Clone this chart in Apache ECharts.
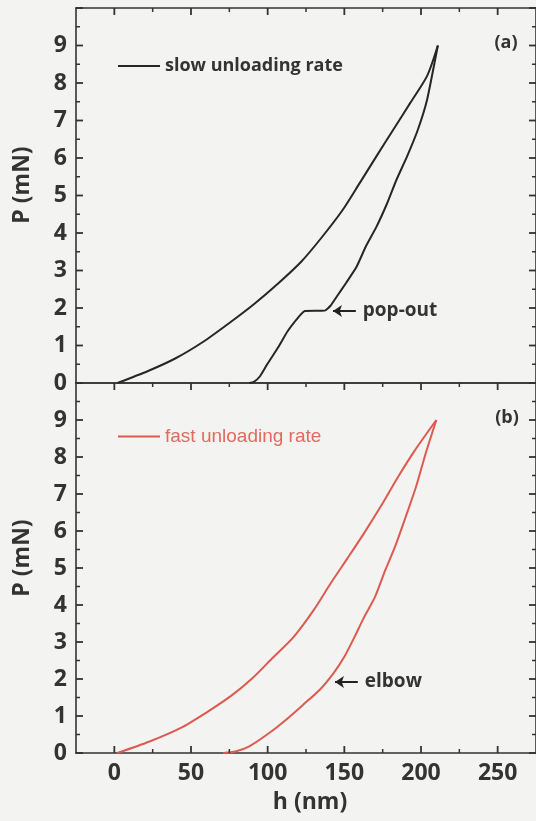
<!DOCTYPE html>
<html>
<head>
<meta charset="utf-8">
<script src="https://cdn.jsdelivr.net/npm/echarts@6/dist/echarts.min.js"></script>
</head>
<body style="margin:0;background:#f3f3f1">
<div id="chart" style="width:536px;height:821px"></div>
<script>
// ---- data ----
const xMajorTicks = [0, 50, 100, 150, 200, 250];
const xMinorTicks = [25, 75, 125, 175, 225];
const yMajorTicks = [0, 1, 2, 3, 4, 5, 6, 7, 8, 9, 10];
const yMinorTicks = [0.5, 1.5, 2.5, 3.5, 4.5, 5.5, 6.5, 7.5, 8.5, 9.5];

const slowLoadH = [2, 22, 40, 58, 75, 91, 107, 122, 135.6, 149, 160, 171, 182, 193, 204, 211];
const slowLoadP = [0, 0.32, 0.66, 1.1, 1.6, 2.1, 2.66, 3.24, 3.9, 4.62, 5.33, 6.05, 6.76, 7.47, 8.19, 9.0];
const slowUnloadH = [211, 204, 198, 191, 184, 178, 171, 164, 158, 151, 146, 141, 137.2, 124.2, 120, 113, 107, 100, 95, 91, 88];
const slowUnloadP = [9.0, 7.56, 6.76, 6.05, 5.42, 4.8, 4.17, 3.64, 3.1, 2.66, 2.36, 2.06, 1.93, 1.92, 1.75, 1.38, 0.96, 0.52, 0.18, 0.03, 0];

const fastLoadH = [2, 23, 43, 61, 77, 90, 103, 117, 130, 141, 152, 163, 174, 185, 196, 210];
const fastLoadP = [0, 0.31, 0.67, 1.12, 1.57, 2.02, 2.56, 3.14, 3.86, 4.58, 5.26, 5.95, 6.68, 7.46, 8.18, 9.0];
const fastUnloadH = [210, 203, 196.7, 190, 183, 176.7, 170, 163, 156.7, 150, 143, 134, 123, 112, 101, 88, 79, 71];
const fastUnloadP = [9.0, 8.09, 7.19, 6.38, 5.57, 4.94, 4.22, 3.68, 3.14, 2.6, 2.16, 1.71, 1.3, 0.9, 0.54, 0.18, 0.04, 0];

const popOutArrowH = [157.5, 142.6];
const popOutArrowP = 1.92;
const elbowArrowH = [158.8, 143.9];
const elbowArrowP = 1.92;

const slowName = 'slow unloading rate';
const fastName = 'fast unloading rate';
// ---------------

const X_MIN = -25, X_MAX = 275, Y_MIN = 0, Y_MAX = 10;
const zip = (a, b) => a.map((v, i) => [v, b[i]]);
const AX = '#333';
const TXT = '#333';
const BLACK = '#262626';
const RED = '#dc5a50';
const FONT = '"Open Sans", "DejaVu Sans", sans-serif';

function xa(g, pos, labels) {
  return {
    type: 'value', gridIndex: g, position: pos, min: X_MIN, max: X_MAX,
    axisLine: { show: true, onZero: false, lineStyle: { color: AX, width: 1.6 } },
    axisTick: { show: false },
    axisLabel: labels
      ? { show: true, customValues: xMajorTicks, margin: 9, color: TXT, fontSize: 23, fontWeight: 'bold', fontFamily: FONT }
      : { show: false },
    splitLine: { show: false }
  };
}
function ya(g, pos, labels) {
  return {
    type: 'value', gridIndex: g, position: pos, min: Y_MIN, max: Y_MAX, interval: 1,
    axisLine: { show: true, onZero: false, lineStyle: { color: AX, width: 1.6 } },
    axisTick: { show: false },
    axisLabel: labels
      ? { show: true, margin: 9, color: TXT, fontSize: 23, fontWeight: 'bold', fontFamily: FONT,
          formatter: v => (v >= 10 ? '' : String(v)) }
      : { show: false },
    splitLine: { show: false }
  };
}

// tick marks drawn through the axes' own scales (api.coord)
function tickSeries(xi, yi, values, edge, len, width) {
  const data = values.map(v =>
    edge === 'bottom' ? [v, Y_MIN] :
    edge === 'top' ? [v, Y_MAX] :
    edge === 'left' ? [X_MIN, v] : [X_MAX, v]);
  return {
    type: 'custom', xAxisIndex: xi, yAxisIndex: yi, silent: true, clip: false, z: 5,
    data: data,
    renderItem: (params, api) => {
      const p = api.coord([api.value(0), api.value(1)]);
      let x2 = p[0], y2 = p[1];
      if (edge === 'bottom') y2 -= len;
      else if (edge === 'top') y2 += len;
      else if (edge === 'left') x2 += len;
      else x2 -= len;
      return { type: 'line', shape: { x1: p[0], y1: p[1], x2: x2, y2: y2 },
               style: { stroke: AX, lineWidth: width } };
    }
  };
}

const chart = echarts.init(document.getElementById('chart'));

const tickSeriesList = [
  // top panel (grid 0): top, left, right edges
  tickSeries(0, 0, xMajorTicks, 'top', 7, 1.8),
  tickSeries(0, 0, xMinorTicks, 'top', 4, 1.5),
  tickSeries(0, 0, yMajorTicks, 'left', 7, 1.8),
  tickSeries(0, 0, yMinorTicks, 'left', 4, 1.5),
  tickSeries(0, 0, yMajorTicks, 'right', 7, 1.8),
  tickSeries(0, 0, yMinorTicks, 'right', 4, 1.5),
  // bottom panel (grid 1): all four edges
  tickSeries(3, 2, xMajorTicks, 'top', 7, 1.8),
  tickSeries(3, 2, xMinorTicks, 'top', 4, 1.5),
  tickSeries(3, 2, xMajorTicks, 'bottom', 7, 1.8),
  tickSeries(3, 2, xMinorTicks, 'bottom', 4, 1.5),
  tickSeries(3, 2, yMajorTicks, 'left', 7, 1.8),
  tickSeries(3, 2, yMinorTicks, 'left', 4, 1.5),
  tickSeries(3, 2, yMajorTicks, 'right', 7, 1.8),
  tickSeries(3, 2, yMinorTicks, 'right', 4, 1.5)
];

chart.setOption({
  backgroundColor: '#f3f3f1',
  animation: false,
  grid: [
    { left: 76, top: 8, width: 463, height: 375 },
    { left: 76, top: 383, width: 463, height: 370 }
  ],
  xAxis: [
    xa(0, 'bottom', false),
    xa(0, 'top', false),
    xa(1, 'top', false),
    xa(1, 'bottom', true)
  ],
  yAxis: [
    ya(0, 'left', true),
    ya(0, 'right', false),
    ya(1, 'left', true),
    ya(1, 'right', false)
  ],
  legend: [
    { data: [slowName], left: 113, top: 52, icon: 'rect', itemWidth: 42, itemHeight: 2, selectedMode: false,
      textStyle: { color: TXT, fontSize: 18, fontWeight: 'bold', fontFamily: FONT } },
    { data: [fastName], left: 113, top: 422, icon: 'rect', itemWidth: 42, itemHeight: 2, selectedMode: false,
      textStyle: { color: '#e06a60', fontSize: 19, fontFamily: '"Liberation Sans", Arial, sans-serif' } }
  ],
  graphic: [
    { type: 'text', x: 22, y: 185, rotation: Math.PI / 2,
      style: { text: 'P (mN)', fill: TXT, font: 'bold 23px ' + FONT, align: 'center', verticalAlign: 'middle' } },
    { type: 'text', x: 22, y: 558, rotation: Math.PI / 2,
      style: { text: 'P (mN)', fill: TXT, font: 'bold 23px ' + FONT, align: 'center', verticalAlign: 'middle' } },
    { type: 'text', x: 310, y: 802,
      style: { text: 'h (nm)', fill: TXT, font: 'bold 23px ' + FONT, align: 'center', verticalAlign: 'middle' } },
    { type: 'text', x: 506, y: 43,
      style: { text: '(a)', fill: TXT, font: 'bold 18px ' + FONT, align: 'center', verticalAlign: 'middle' } },
    { type: 'text', x: 507, y: 418,
      style: { text: '(b)', fill: TXT, font: 'bold 18px ' + FONT, align: 'center', verticalAlign: 'middle' } }
  ],
  series: [
    { type: 'line', name: slowName, xAxisIndex: 0, yAxisIndex: 0,
      data: zip(slowLoadH, slowLoadP), showSymbol: false, smooth: 0.25,
      lineStyle: { color: BLACK, width: 2 }, itemStyle: { color: BLACK } },
    { type: 'line', name: slowName, xAxisIndex: 0, yAxisIndex: 0,
      data: zip(slowUnloadH, slowUnloadP), showSymbol: false, smooth: 0.15,
      lineStyle: { color: BLACK, width: 2 }, itemStyle: { color: BLACK },
      markLine: {
        silent: true, symbol: ['none', 'arrow'], symbolSize: [9, 9],
        lineStyle: { color: '#222', width: 2, type: 'solid' },
        label: { show: true, position: 'start', distance: 7, formatter: 'pop-out', color: TXT, fontSize: 19, fontWeight: 'bold', fontFamily: FONT },
        data: [[{ coord: [popOutArrowH[0], popOutArrowP] }, { coord: [popOutArrowH[1], popOutArrowP] }]]
      } },
    { type: 'line', name: fastName, xAxisIndex: 3, yAxisIndex: 2,
      data: zip(fastLoadH, fastLoadP), showSymbol: false, smooth: 0.25,
      lineStyle: { color: RED, width: 2 }, itemStyle: { color: RED } },
    { type: 'line', name: fastName, xAxisIndex: 3, yAxisIndex: 2,
      data: zip(fastUnloadH, fastUnloadP), showSymbol: false, smooth: 0.25,
      lineStyle: { color: RED, width: 2 }, itemStyle: { color: RED },
      markLine: {
        silent: true, symbol: ['none', 'arrow'], symbolSize: [9, 9],
        lineStyle: { color: '#222', width: 2, type: 'solid' },
        label: { show: true, position: 'start', distance: 7, formatter: 'elbow', color: TXT, fontSize: 19, fontWeight: 'bold', fontFamily: FONT },
        data: [[{ coord: [elbowArrowH[0], elbowArrowP] }, { coord: [elbowArrowH[1], elbowArrowP] }]]
      } }
  ].concat(tickSeriesList)
});
</script>
</body>
</html>
